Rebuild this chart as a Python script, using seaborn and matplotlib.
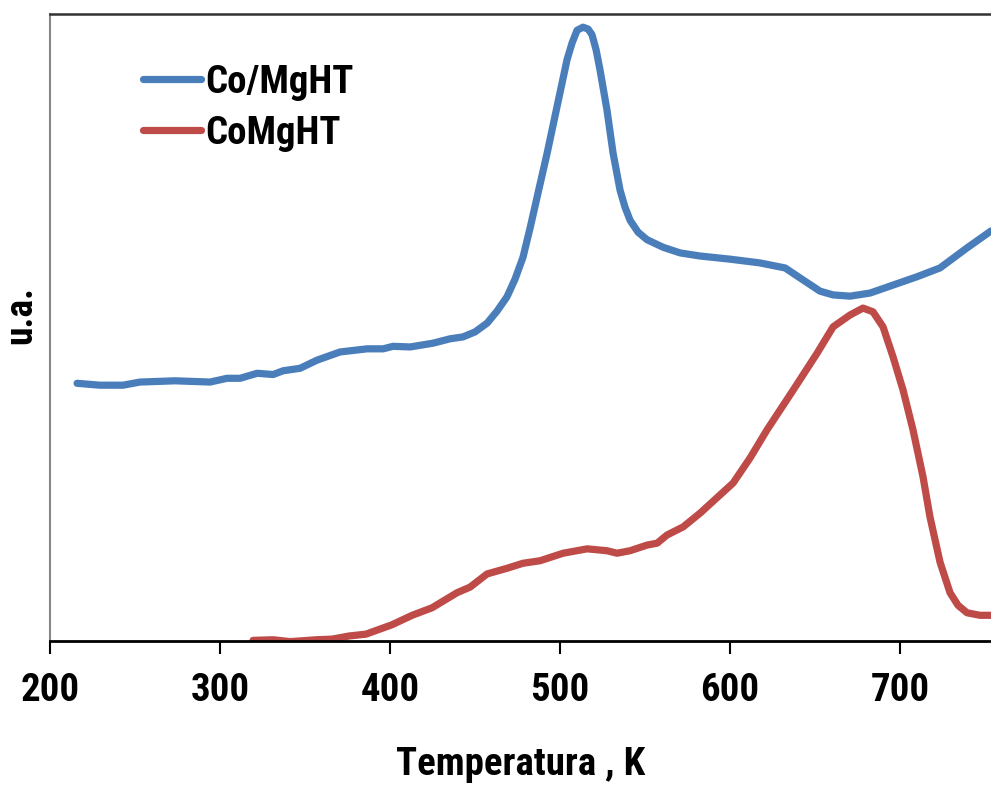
import pandas as pd
import matplotlib
matplotlib.use("Agg")
import matplotlib.pyplot as plt
from matplotlib import font_manager
import seaborn as sns

# Co/MgHT trace (K, u.a.)
temp_co_mght = [215.9, 229.4, 242.9, 252.9, 273.5, 294.1, 304.1, 311.8, 321.8, 331.2,
                337.1, 347.1, 357.1, 370.6, 386.5, 395.9, 401.8, 411.8, 425.3, 435.3,
                442.9, 450.0, 457.1, 462.9, 468.8, 473.5, 478.2, 482.4, 486.5, 492.4,
                498.2, 504.1, 507.1, 510.0, 513.5, 516.5, 518.8, 521.2, 523.5, 527.6,
                531.2, 535.3, 538.2, 541.2, 545.9, 551.2, 560.6, 570.6, 582.4, 600.0,
                617.6, 632.4, 641.2, 652.9, 660.6, 670.6, 682.4, 694.1, 710.0, 723.5,
                739.4, 753.5]
ua_co_mght = [41.1, 40.8, 40.8, 41.3, 41.5, 41.3, 41.9, 41.9, 42.7, 42.5,
              43.1, 43.5, 44.8, 46.1, 46.6, 46.6, 47.0, 46.9, 47.5, 48.2,
              48.5, 49.3, 50.7, 52.6, 54.9, 57.7, 61.2, 65.9, 70.8, 77.8,
              85.2, 92.7, 95.4, 97.4, 97.9, 97.6, 96.7, 94.3, 91.1, 84.7,
              77.8, 71.9, 69.2, 67.1, 65.2, 64.0, 62.8, 61.9, 61.4, 60.9,
              60.3, 59.5, 57.9, 55.8, 55.2, 55.0, 55.5, 56.6, 58.1, 59.5,
              62.7, 65.4]

# CoMgHT trace (K, u.a.)
temp_comght = [319.4, 331.2, 341.2, 356.5, 365.9, 375.9, 385.9, 401.2, 413.0, 424.7,
               439.4, 447.1, 457.1, 468.8, 478.2, 488.2, 501.8, 515.9, 527.6, 533.5,
               541.2, 551.2, 557.1, 562.9, 572.4, 576.5, 582.4, 601.8, 611.8, 621.8,
               637.1, 651.2, 660.6, 670.6, 678.2, 684.1, 690.0, 695.9, 701.8, 707.6,
               713.5, 717.6, 723.5, 729.4, 734.1, 739.4, 747.0, 753.5]
ua_comght = [0.1, 0.2, -0.1, 0.2, 0.3, 0.8, 1.1, 2.6, 4.1, 5.3,
             7.7, 8.6, 10.7, 11.6, 12.4, 12.8, 14.0, 14.7, 14.4, 14.0,
             14.4, 15.3, 15.6, 16.9, 18.2, 19.1, 20.4, 25.2, 29.2, 33.7,
             40.0, 45.9, 50.1, 52.0, 53.1, 52.5, 50.1, 45.3, 40.0, 33.7,
             26.2, 19.8, 12.6, 7.7, 5.7, 4.5, 4.1, 4.1]

x_ticks = [200, 300, 400, 500, 600, 700]

sns.set_style("white")

# narrow bold font if there is one, else Liberation Sans
installed = {f.name for f in font_manager.fontManager.ttflist}
font = 'Liberation Sans'
for cand in ['Liberation Sans Narrow', 'Arial Narrow', 'Roboto Condensed', 'Open Sans Condensed']:
    if cand in installed:
        font = cand
        break
plt.rcParams['font.family'] = [font, 'DejaVu Sans']
plt.rcParams['font.weight'] = 'bold'
plt.rcParams['text.color'] = 'black'
plt.rcParams['axes.labelcolor'] = 'black'
plt.rcParams['xtick.color'] = 'black'

fig = plt.figure(figsize=(9.91, 7.87), dpi=100)
ax = fig.add_axes([0.0505, 0.1855, 0.9495, 0.7967])

sns.lineplot(x=temp_co_mght, y=ua_co_mght, color='#4A7EBB', linewidth=5.2,
             label='Co/MgHT', ax=ax, sort=False)
sns.lineplot(x=temp_comght, y=ua_comght, color='#BE4B48', linewidth=5.2,
             label='CoMgHT', ax=ax, sort=False)
for ln in ax.get_lines():
    ln.set_solid_joinstyle('round')
    ln.set_solid_capstyle('round')

ax.set_xlim(200, 753.5)
ax.set_ylim(0, 100)
ax.set_xticks(x_ticks)
ax.set_yticks([])
ax.tick_params(axis='x', direction='out', length=9, width=1.5, color='black',
               labelsize=28, pad=13, bottom=True)
for lab in ax.get_xticklabels():
    lab.set_fontweight('bold')

ax.spines['right'].set_visible(False)
ax.spines['left'].set_color('#888888')
ax.spines['left'].set_linewidth(1.5)
ax.spines['top'].set_color('#333333')
ax.spines['top'].set_linewidth(1.8)
ax.spines['bottom'].set_color('black')
ax.spines['bottom'].set_linewidth(2)

ax.set_xlabel("Temperatura , K", fontsize=28, fontweight='bold', labelpad=27)
ax.set_ylabel("u.a.", fontsize=27, fontweight='bold')
ax.yaxis.set_label_coords(-0.012, 0.52)

leg = ax.legend(loc='upper left', bbox_to_anchor=(0.082, 0.945), frameon=False,
                handlelength=1.5, handletextpad=0.1, borderaxespad=0,
                labelspacing=0.35, prop={'weight': 'bold', 'size': 28})
for t in leg.get_texts():
    t.set_color('black')

fig.savefig("out.png", dpi=100)
